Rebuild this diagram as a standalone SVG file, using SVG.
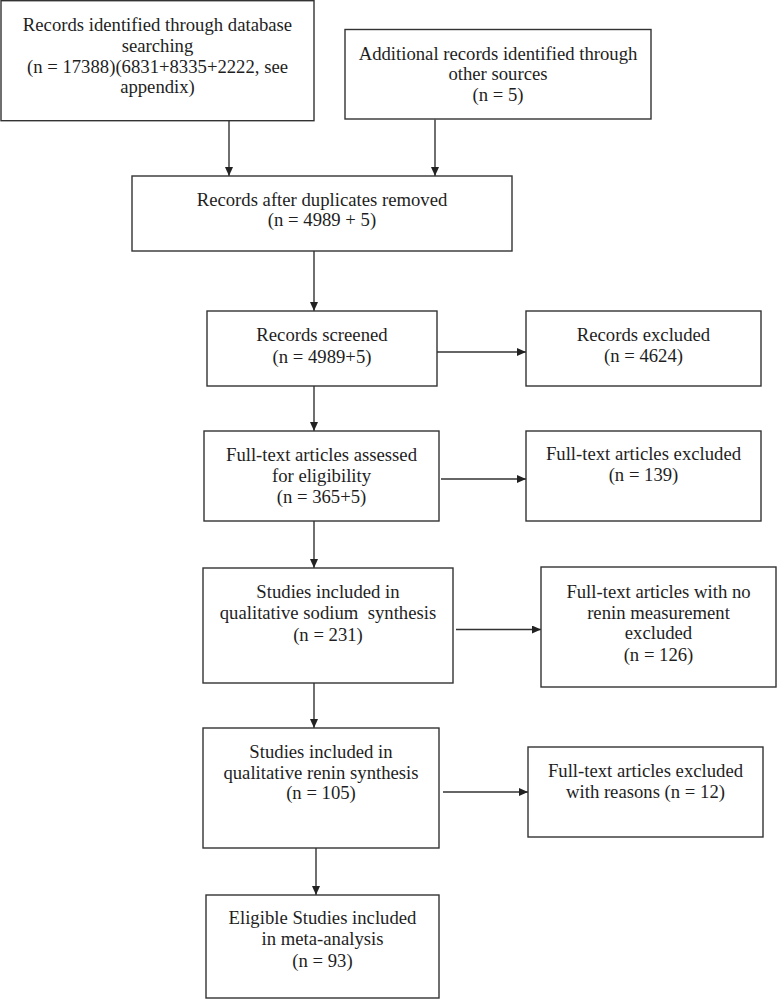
<svg xmlns="http://www.w3.org/2000/svg" width="777" height="999" viewBox="0 0 777 999">
<style>
  .box { fill: #ffffff; stroke: #333333; stroke-width: 1.4; }
  .t { font-family: "Liberation Serif", "Times New Roman", serif; font-size: 18.7px; fill: #1e1e1e; text-anchor: middle; white-space: pre; }
  .c { stroke: #333333; stroke-width: 1.4; fill: none; marker-end: url(#arr); }
</style>
<defs>
  <marker id="arr" markerUnits="userSpaceOnUse" markerWidth="10" markerHeight="8" refX="9" refY="4" orient="auto">
    <path d="M0,0 L9,4 L0,8 z" fill="#222222"/>
  </marker>
</defs>
<rect width="777" height="999" fill="#ffffff"/>

<g id="connectors">
  <line class="c" x1="229" y1="121" x2="229" y2="176"/>
  <line class="c" x1="435" y1="119.5" x2="435" y2="176"/>
  <line class="c" x1="314" y1="251" x2="314" y2="311"/>
  <line class="c" x1="437" y1="352" x2="526" y2="352"/>
  <line class="c" x1="314" y1="386" x2="314" y2="431"/>
  <line class="c" x1="441" y1="479" x2="526" y2="479"/>
  <line class="c" x1="314" y1="521" x2="314" y2="568"/>
  <line class="c" x1="456" y1="629.5" x2="541" y2="629.5"/>
  <line class="c" x1="314" y1="683" x2="314" y2="728"/>
  <line class="c" x1="443" y1="792" x2="528" y2="792"/>
  <line class="c" x1="316" y1="848" x2="316" y2="895"/>
</g>

<g id="n_database">
  <rect class="box" x="1" y="0.7" width="313" height="120"/>
  <text class="t" x="157.5" y="31">Records identified through database</text>
  <text class="t" x="157.5" y="51.8">searching</text>
  <text class="t" x="157.5" y="72.6">(n = 17388)(6831+8335+2222, see</text>
  <text class="t" x="157.5" y="93.4">appendix)</text>
</g>

<g id="n_other">
  <rect class="box" x="345" y="29.5" width="306" height="89.5"/>
  <text class="t" x="498" y="59.5">Additional records identified through</text>
  <text class="t" x="498" y="80.3">other sources</text>
  <text class="t" x="498" y="101.1">(n = 5)</text>
</g>

<g id="n_dedup">
  <rect class="box" x="132" y="176" width="380" height="75"/>
  <text class="t" x="322" y="205.5">Records after duplicates removed</text>
  <text class="t" x="322" y="226.3">(n = 4989 + 5)</text>
</g>

<g id="n_screened">
  <rect class="box" x="207" y="311" width="230" height="75"/>
  <text class="t" x="322" y="341">Records screened</text>
  <text class="t" x="322" y="362.5">(n = 4989+5)</text>
</g>

<g id="n_excluded">
  <rect class="box" x="526" y="311" width="235" height="75"/>
  <text class="t" x="643.5" y="341">Records excluded</text>
  <text class="t" x="643.5" y="362">(n = 4624)</text>
</g>

<g id="n_assessed">
  <rect class="box" x="204" y="431" width="235" height="90"/>
  <text class="t" x="321.5" y="461">Full-text articles assessed</text>
  <text class="t" x="321.5" y="481.8">for eligibility</text>
  <text class="t" x="321.5" y="502.6">(n = 365+5)</text>
</g>

<g id="n_ft_excluded">
  <rect class="box" x="526" y="431" width="235" height="90"/>
  <text class="t" x="643.5" y="460">Full-text articles excluded</text>
  <text class="t" x="643.5" y="481">(n = 139)</text>
</g>

<g id="n_sodium">
  <rect class="box" x="203" y="568" width="250" height="115"/>
  <text class="t" x="328" y="598">Studies included in</text>
  <text class="t" x="328" y="619" xml:space="preserve">qualitative sodium  synthesis</text>
  <text class="t" x="328" y="640.5">(n = 231)</text>
</g>

<g id="n_no_renin">
  <rect class="box" x="541" y="567" width="235" height="120"/>
  <text class="t" x="658.5" y="598">Full-text articles with no</text>
  <text class="t" x="658.5" y="618.5">renin measurement</text>
  <text class="t" x="658.5" y="639">excluded</text>
  <text class="t" x="658.5" y="660.5">(n = 126)</text>
</g>

<g id="n_renin">
  <rect class="box" x="203" y="728" width="236" height="120"/>
  <text class="t" x="321" y="758">Studies included in</text>
  <text class="t" x="321" y="778.5">qualitative renin synthesis</text>
  <text class="t" x="321" y="799">(n = 105)</text>
</g>

<g id="n_reasons">
  <rect class="box" x="528" y="747" width="235" height="90"/>
  <text class="t" x="645.5" y="777">Full-text articles excluded</text>
  <text class="t" x="645.5" y="798">with reasons (n = 12)</text>
</g>

<g id="n_eligible">
  <rect class="box" x="206" y="895" width="233" height="103"/>
  <text class="t" x="322.5" y="924">Eligible Studies included</text>
  <text class="t" x="322.5" y="945">in meta-analysis</text>
  <text class="t" x="322.5" y="966.5">(n = 93)</text>
</g>
</svg>
